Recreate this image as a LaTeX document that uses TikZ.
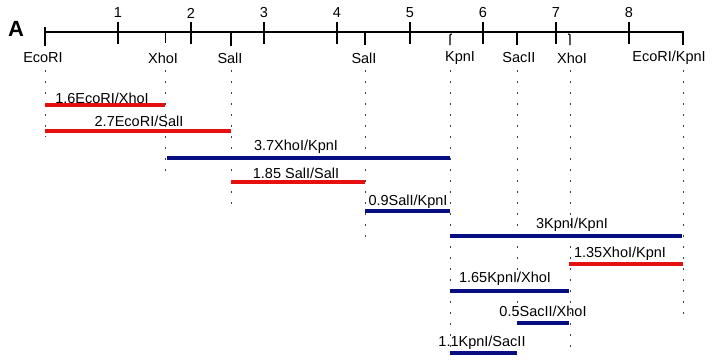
\documentclass[tikz,border=0pt]{standalone}
\usepackage{fontspec}
\setmainfont{Liberation Sans}
\definecolor{barred}{RGB}{230,16,16}
\definecolor{barblue}{RGB}{6,14,130}
\begin{document}
\begin{tikzpicture}[x=1pt,y=-1pt,
  lbl/.style={font=\fontsize{14.5}{16}\selectfont, inner sep=0pt},
  axisline/.style={line width=1.3pt, black},
  majortick/.style={line width=2pt, black},
  dotline/.style={line width=0.8pt, black!75, dash pattern=on 2pt off 9pt},
  redbar/.style={line width=4pt, barred},
  bluebar/.style={line width=4pt, barblue}]
\useasboundingbox (0,0) rectangle (713,364);
\fill[white] (0,0) rectangle (713,364);

\node[font=\fontsize{22}{24}\selectfont\bfseries, inner sep=0pt] (A) at (16,29) {A};

% axis
\coordinate (a0) at (45,32);
\coordinate (aend) at (683,32);
\coordinate (aendlow) at (683,45);
\draw[axisline] (a0) -- (aend) -- (aendlow);

% major ticks
\foreach \i in {1,...,8}{
  \pgfmathsetmacro{\xx}{45+73*\i}
  \coordinate (t\i a) at (\xx,22);
  \coordinate (t\i b) at (\xx,44);
  \draw[majortick] (t\i a) -- (t\i b);
  \node[lbl] (num\i) at (\xx,13) {\i};
}

% restriction sites: name/x/label x/label/tick top/tick end/dot end/tick width
\foreach \n/\x/\lx/\t/\tt/\te/\de/\tw in {
  sE1/45/43/{EcoRI}/27/46/137/2.4pt,
  sX1/165/163/{XhoI}/32/43/176/1pt,
  sS1/231/230/{SalI}/32/46/205/2pt,
  sS2/365/364/{SalI}/32/45/238/1.2pt,
  sSc/517/519/{SacII}/32/45/327/2pt,
  sE2/683/669/{EcoRI/KpnI}/32/45/316/1.3pt}{
  \coordinate (\n a) at (\x,\tt);
  \coordinate (\n b) at (\x,\te);
  \draw[line width=\tw] (\n a) -- (\n b);
  \node[lbl] (\n lab) at (\lx,58) {\t};
  \coordinate (\n d1) at (\x,70);
  \coordinate (\n d2) at (\x,\de);
  \draw[dotline] (\n d1) -- (\n d2);
}
% KpnI and XhoI sites with hooked ticks
\foreach \n/\x/\lx/\t/\h/\de in {sK/450/460/{KpnI}/1.8/356, sX2/570/572/{XhoI}/-1.8/355}{
  \coordinate (\n a) at (\x+\h,34);
  \coordinate (\n m) at (\x,38);
  \coordinate (\n b) at (\x,45);
  \draw[line width=1.2pt] (\n a) .. controls (\x,34) .. (\n m) -- (\n b);
  \node[lbl] (\n lab) at (\lx,58) {\t};
  \coordinate (\n d1) at (\x,70);
  \coordinate (\n d2) at (\x,\de);
  \draw[dotline] (\n d1) -- (\n d2);
}

% fragments: name/left/right/y/style/label x/label y/text
\foreach \n/\l/\r/\y/\s/\lx/\ly/\t in {
  f1/45/165/105/redbar/102/98/{1.6EcoRI/XhoI},
  f2/45/231/131/redbar/139/121/{2.7EcoRI/SalI},
  f3/167/450/158/bluebar/296/147/{3.7XhoI/KpnI},
  f4/231/365/182/redbar/296/173/{1.85 SalI/SalI},
  f5/365/450/211/bluebar/408/202/{0.9SalI/KpnI},
  f6/450/682/236/bluebar/572/225/{3KpnI/KpnI},
  f7/569/683/264/redbar/620/254/{1.35XhoI/KpnI},
  f8/450/569/291/bluebar/505/279/{1.65KpnI/XhoI},
  f9/517/569/323/bluebar/543/311/{0.5SacII/XhoI},
  f10/450/517/353/bluebar/482/343/{1.1KpnI/SacII}}{
  \coordinate (\n l) at (\l,\y);
  \coordinate (\n r) at (\r,\y);
  \draw[\s] (\n l) -- (\n r);
  \node[lbl] (\n lab) at (\lx,\ly) {\t};
}
\end{tikzpicture}
\end{document}
